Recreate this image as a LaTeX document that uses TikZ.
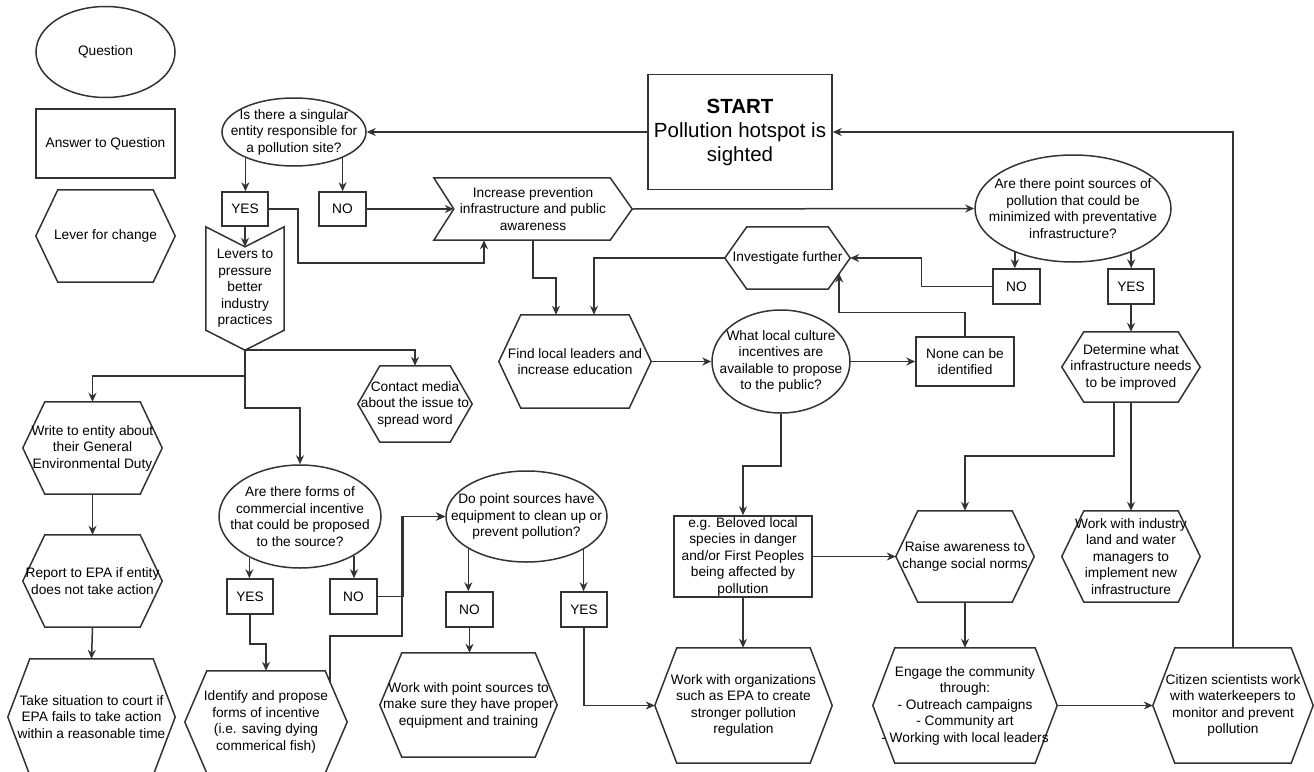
\documentclass[tikz,border=0pt]{standalone}
\usepackage{fontspec}
\setmainfont{Liberation Sans}
\usetikzlibrary{arrows.meta,shapes.geometric}

\newcommand\hexinset{22pt}
\newcommand\chevdepth{20pt}

\tikzset{
  line/.style={draw=black!80, line width=1.5pt},
  arr/.style={line, -{Stealth[length=9pt,width=8pt]}},
  qtext/.style={align=center, inner sep=0pt},
  question/.style 2 args={ellipse, line, minimum width=#1, minimum height=#2, inner sep=0pt},
  answer/.style 2 args={rectangle, line, minimum width=#1, minimum height=#2, inner sep=0pt, align=center},
  lever/.style 2 args={minimum width=#1, minimum height=#2, inner sep=0pt, align=center,
    append after command={\pgfextra{\draw[line]
      (\tikzlastnode.west) -- ([xshift=\hexinset]\tikzlastnode.north west)
      -- ([xshift=-\hexinset]\tikzlastnode.north east) -- (\tikzlastnode.east)
      -- ([xshift=-\hexinset]\tikzlastnode.south east)
      -- ([xshift=\hexinset]\tikzlastnode.south west) -- cycle;}}},
  chevdown/.style 2 args={minimum width=#1, minimum height=#2, inner sep=0pt, align=center,
    append after command={\pgfextra{\draw[line]
      (\tikzlastnode.north west) -- ([yshift=-\chevdepth]\tikzlastnode.north)
      -- (\tikzlastnode.north east) -- ([yshift=\chevdepth]\tikzlastnode.south east)
      -- (\tikzlastnode.south) -- ([yshift=\chevdepth]\tikzlastnode.south west) -- cycle;}}},
  chevright/.style 2 args={minimum width=#1, minimum height=#2, inner sep=0pt, align=center,
    append after command={\pgfextra{\draw[line]
      (\tikzlastnode.north west) -- ([xshift=-\hexinset]\tikzlastnode.north east)
      -- (\tikzlastnode.east) -- ([xshift=-\hexinset]\tikzlastnode.south east)
      -- (\tikzlastnode.south west) -- ([xshift=\chevdepth]\tikzlastnode.west) -- cycle;}}},
}

\begin{document}
\begin{tikzpicture}[x=1pt, y=-1pt,
  every node/.append style={font=\fontsize{13.7}{16.5}\selectfont, text=black}]
\useasboundingbox (0,0) rectangle (1314,771);

% legend
\node[question={139}{91}, label={[qtext]center:Question}] (legq) at (105.5,52) {};
\node[answer={139}{69}] (lega) at (105.5,143.5) {Answer to Question};
\node[lever={139}{92}] (legl) at (105.5,236) {Lever for change};

% start and first question
\node[answer={184}{115}, font=\fontsize{20.5}{24}\selectfont] (start) at (740,132)
  {\textbf{START}\\Pollution hotspot is\\sighted};
\node[question={144}{68}, label={[qtext]center:Is there a singular\\entity responsible for\\a pollution site?}] (q1) at (294,132) {};
\node[answer={46}{34}] (yes1) at (245,209) {YES};
\node[answer={47}{34}] (no1) at (342.5,209) {NO};
\node[chevdown={78}{123}] (levers) at (245,288.5) {Levers to\\pressure\\better\\industry\\practices};
\node[chevright={198}{62}] (inc) at (533,209) {Increase prevention\\infrastructure and public\\awareness};

% industry branch
\node[lever={114}{76}] (media) at (415,404) {Contact media\\about the issue to\\spread word};
\node[lever={139}{92}] (write) at (92.5,448) {Write to entity about\\their General\\Environmental Duty};
\node[lever={139}{92}] (report) at (92.5,581) {Report to EPA if entity\\does not take action};
\node[lever={167}{116}] (court) at (91.5,717) {Take situation to court if\\EPA fails to take action\\within a reasonable time};
\node[question={162}{103}, label={[qtext]center:Are there forms of\\commercial incentive\\that could be proposed\\to the source?}] (q5) at (300,516.5) {};
\node[answer={46}{35}] (yes5) at (250,596.5) {YES};
\node[answer={47}{35}] (no5) at (353.5,596.5) {NO};
\node[lever={162}{102}] (ident) at (266,722) {Identify and propose\\forms of incentive\\(i.e. saving dying\\commerical fish)};
\node[question={161}{91}, label={[qtext]center:Do point sources have\\equipment to clean up or\\prevent pollution?}] (q4) at (526.5,516.5) {};
\node[answer={47}{35}] (no4) at (469.5,609.5) {NO};
\node[answer={46}{35}] (yes4) at (584,609.5) {YES};
\node[lever={177}{104}] (ptsrc) at (468.5,705) {Work with point sources to\\make sure they have proper\\equipment and training};

% community branch
\node[lever={125}{62}] (inv) at (787.5,258) {Investigate further};
\node[lever={152}{93}] (find) at (575,361.5) {Find local leaders and\\increase education};
\node[question={138}{103}, label={[qtext]center:What local culture\\incentives are\\available to propose\\to the public?}] (q3) at (781,361.5) {};
\node[answer={98}{49}] (none) at (965,361.5) {None can be\\identified};
\node[answer={138}{81}] (eg) at (743,556.5) {e.g. Beloved local\\species in danger\\and/or First Peoples\\being affected by\\pollution};
\node[lever={177}{115}] (orgs) at (743.5,705.5) {Work with organizations\\such as EPA to create\\stronger pollution\\regulation};
\node[lever={138}{91}] (raise) at (965,556.5) {Raise awareness to\\change social norms};
\node[lever={184}{115}] (engage) at (965,705.5) {Engage the community\\through:\\- Outreach campaigns\\- Community art\\- Working with local leaders};
\node[lever={160}{115}] (citizen) at (1233,705.5) {Citizen scientists work\\with waterkeepers to\\monitor and prevent\\pollution};

% infrastructure branch
\node[question={196}{107}, label={[qtext]center:Are there point sources of\\pollution that could be\\minimized with preventative\\infrastructure?}] (q2) at (1073,208.5) {};
\node[answer={47}{35}] (no2) at (1016.5,286.5) {NO};
\node[answer={46}{35}] (yes2) at (1131,286.5) {YES};
\node[lever={138}{70}] (det) at (1131,367) {Determine what\\infrastructure needs\\to be improved};
\node[lever={138}{91}] (workind) at (1131,556.5) {Work with industry\\land and water\\managers to\\implement new\\infrastructure};

% connectors
\draw[arr] (start.west) -- (start.west -| q1.east);
\draw[arr] (citizen.north) |- (start.east);
\draw[arr] (q1.208) -- (q1.208 |- yes1.north);
\draw[arr] (q1.332) -- (q1.332 |- no1.north);
\draw[arr] (yes1.south) -- ([yshift=-\chevdepth]levers.north);
\draw[arr] (no1.east) -- ([xshift=\chevdepth]inc.west);
\draw[arr] (yes1.east) -- ++(29,0) -- ++(0,54) -| ([xshift=-49pt]inc.south);
\draw[arr] (inc.east) -- (q2.west);

\draw[arr] (levers.south) -| (media.north);
\draw[arr] (levers.south) -- ++(0,26) -| (write.north);
\draw[arr] (levers.south) -- ++(0,58) -| (q5.north);
\draw[arr] (write.south) -- (report.north);
\draw[arr] (report.south) -- (court.north);

\draw[arr] (q5.219) -- (q5.219 |- yes5.north);
\draw[arr] (q5.324) -- (q5.324 |- no5.north);
\draw[arr] (yes5.south) -- ++(0,29) -| (ident.north);
\draw[arr] (no5.east) -- ++(25,0) |- (q4.west);
\draw[arr] ([xshift=-17pt,yshift=-12pt]ident.north east) |- ++(72,-47) |- (q4.west);
\draw[arr] (q4.209) -- (q4.209 |- no4.north);
\draw[arr] (q4.330) -- (q4.330 |- yes4.north);
\draw[arr] (no4.south) -- (no4.south |- ptsrc.north);
\draw[arr] (yes4.south) |- (orgs.west);

\draw[arr] (q2.217) -- (q2.217 |- no2.north);
\draw[arr] (q2.323) -- (q2.323 |- yes2.north);
\draw[arr] (no2.west) -- ++(-71,0) |- (inv.east);
\draw[arr] (inv.west) -| ([xshift=19pt]find.north);
\draw[arr] (inc.south) -- ++(0,38) -| ([xshift=-19pt]find.north);
\draw[arr] (find.east) -- (q3.west);
\draw[arr] (q3.east) -- (none.west);
\draw[arr] (none.north) -- ++(0,-24) -| ([xshift=-11pt,yshift=-15.5pt]inv.east);
\draw[arr] (q3.south) -- ++(0,52) -| (eg.north);
\draw[arr] (eg.east) -- (raise.west);
\draw[arr] (eg.south) -- (eg.south |- orgs.north);

\draw[arr] (yes2.south) -- (det.north);
\draw[arr] ([xshift=-17pt]det.south) -- ++(0,54) -| (raise.north);
\draw[arr] (det.south) -- (workind.north);
\draw[arr] (raise.south) -- (engage.north);
\draw[arr] (engage.east) -- (citizen.west);
\end{tikzpicture}
\end{document}
